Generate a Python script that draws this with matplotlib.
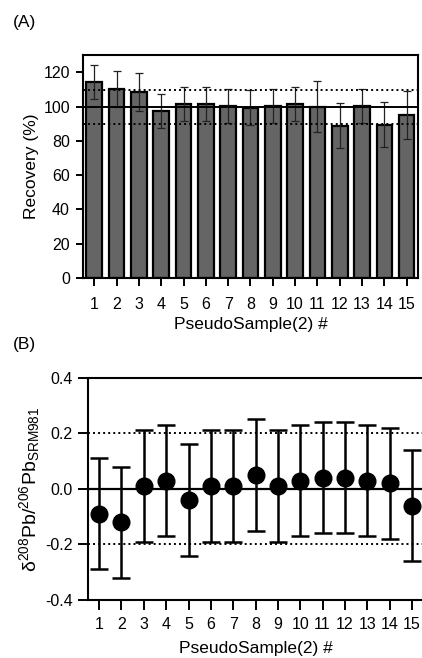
#!/usr/bin/env python3
"""Recovery and delta-208Pb/206Pb of PseudoSample(2), two stacked panels."""

import matplotlib
matplotlib.use("Agg")
import matplotlib.pyplot as plt
import numpy as np

plt.rcParams["font.family"] = ["Liberation Sans", "DejaVu Sans"]
plt.rcParams["mathtext.fontset"] = "custom"
plt.rcParams["mathtext.rm"] = "Liberation Sans"
plt.rcParams["mathtext.it"] = "Liberation Sans:italic"

# ---------------------------------------------------------------------------
# Data
# ---------------------------------------------------------------------------
samples = list(range(1, 16))

recovery = [114.5, 110.5, 108.5, 97.5, 101.5, 101.5, 100.5, 99.5,
            100.5, 101.5, 100.0, 89.0, 100.5, 89.5, 95.0]
recovery_err = [10.0, 10.5, 11.0, 10.0, 10.0, 10.0, 10.0, 10.0,
                10.0, 10.0, 15.0, 13.0, 10.0, 13.0, 14.0]

delta = [-0.09, -0.12, 0.01, 0.03, -0.04, 0.01, 0.01, 0.05,
         0.01, 0.03, 0.04, 0.04, 0.03, 0.02, -0.06]
delta_err = [0.2] * 15

rec_ref, rec_band = 100, [90, 110]
delta_ref, delta_band = 0.0, [-0.2, 0.2]

TICK_FS = 11.5
LABEL_FS = 12.5

# ---------------------------------------------------------------------------
# Figure
# ---------------------------------------------------------------------------
fig = plt.figure(figsize=(4.22, 6.58), dpi=100)
ax_a = fig.add_axes([0.197, 0.5775, 0.793, 0.3385])
ax_b = fig.add_axes([0.2085, 0.0881, 0.794, 0.3379])

# --- (A) recovery bars ---
ax = ax_a
ax.bar(samples, recovery, width=0.7, color="#656565", edgecolor="black",
       linewidth=1.6, zorder=2)
ax.errorbar(samples, recovery, yerr=recovery_err, fmt="none", ecolor="#222222",
            elinewidth=0.9, capsize=3.2, capthick=0.9, zorder=3)
ax.axhline(rec_ref, color="black", lw=1.4, zorder=4)
for y in rec_band:
    ax.axhline(y, color="black", lw=1.4, ls=(0, (1, 1.6)), zorder=4)
ax.set_xlim(0.5, 15.5)
ax.set_ylim(0, 130)
ax.set_yticks(np.arange(0, 121, 20))
ax.set_ylabel("Recovery (%)", fontsize=LABEL_FS, labelpad=3)
ax.set_xlabel("PseudoSample(2) #", fontsize=LABEL_FS, labelpad=3.5)
ax.tick_params(axis="y", length=5, pad=4.5)
ax.tick_params(axis="x", length=6, pad=7.5)
fig.text(0.03, 0.966, "(A)", fontsize=LABEL_FS, ha="left", va="center")

# --- (B) delta values ---
ax = ax_b
ax.axhline(delta_ref, color="black", lw=1.6, zorder=2)
for y in delta_band:
    ax.axhline(y, color="black", lw=1.4, ls=(0, (1, 1.6)), zorder=2)
ax.errorbar(samples, delta, yerr=delta_err, fmt="o", color="black",
            markersize=12, elinewidth=1.8, capsize=6.5, capthick=1.8, zorder=3)
ax.set_xlim(0.5, 15.5)
ax.set_ylim(-0.4, 0.4)
ax.set_yticks([-0.4, -0.2, 0.0, 0.2, 0.4])
ax.set_yticklabels(["-0.4", "-0.2", "0.0", "0.2", "0.4"])
ax.set_ylabel("δ$^{208}$Pb/$^{206}$Pb$_{\\mathrm{SRM981}}$",
              fontsize=14, labelpad=2)
ax.set_xlabel("PseudoSample(2) #", fontsize=LABEL_FS, labelpad=6)
ax.tick_params(axis="y", length=7, pad=4)
ax.tick_params(axis="x", length=7, pad=5.5)
fig.text(0.03, 0.476, "(B)", fontsize=LABEL_FS, ha="left", va="center")

for ax in (ax_a, ax_b):
    ax.set_xticks(samples)
    for s in ax.spines.values():
        s.set_linewidth(1.5)
    ax.tick_params(axis="both", labelsize=TICK_FS, width=1.4)

fig.savefig("out.png", dpi=100)
